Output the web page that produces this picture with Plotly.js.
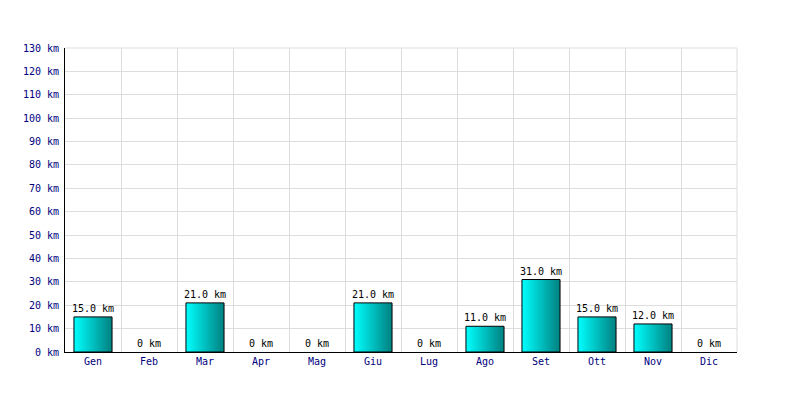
<!DOCTYPE html>
<html>
<head>
<meta charset="utf-8">
<script src="https://cdn.plot.ly/plotly-3.0.1.min.js"></script>
<style>
html,body{margin:0;padding:0;background:#fff;}
#chart{width:800px;height:400px;}
</style>
</head>
<body>
<div id="chart"></div>
<script>
var months = ["Gen","Feb","Mar","Apr","Mag","Giu","Lug","Ago","Set","Ott","Nov","Dic"];
var km = [15, 0, 21, 0, 0, 21, 0, 11, 31, 15, 12, 0];
var labels = km.map(function(v){ return v === 0 ? "0 km" : v.toFixed(1) + " km"; });

var font = "DejaVu Sans Mono, monospace";

var trace = {
  type: "bar",
  x: months,
  y: km,
  text: labels,
  textposition: "outside",
  constraintext: "none",
  cliponaxis: false,
  textfont: {family: font, size: 10, color: "#000000"},
  marker: {
    color: "#00c0c0",
    line: {color: "#000000", width: km.map(function(v){ return v === 0 ? 0 : 1; })}
  },
  hoverinfo: "none"
};

var layout = {
  width: 800, height: 400,
  margin: {l: 65, r: 63, t: 48, b: 48},
  paper_bgcolor: "#ffffff",
  plot_bgcolor: "#ffffff",
  showlegend: false,
  bargap: 0.32,
  font: {family: font, size: 10, color: "#000080"},
  xaxis: {
    type: "category",
    tickson: "boundaries",
    showgrid: true,
    gridcolor: "#dddddd",
    gridwidth: 1,
    ticks: "",
    showline: true,
    linecolor: "#000000",
    linewidth: 1,
    tickfont: {family: font, size: 10, color: "#000080"},
    range: [-0.5, 11.5],
    fixedrange: true
  },
  yaxis: {
    range: [0, 130],
    dtick: 10,
    tick0: 0,
    ticksuffix: " km",
    showgrid: true,
    gridcolor: "#dddddd",
    gridwidth: 1,
    zeroline: false,
    showline: true,
    linecolor: "#000000",
    linewidth: 1,
    ticks: "",
    ticklabelstandoff: 3,
    tickfont: {family: font, size: 10, color: "#000080"},
    fixedrange: true
  },
  shapes: [
    {type: "line", xref: "paper", yref: "paper", x0: 0, x1: 1, y0: 1, y1: 1, line: {color: "#dddddd", width: 1}, layer: "below"},
    {type: "line", xref: "paper", yref: "paper", x0: 1, x1: 1, y0: 0, y1: 1, line: {color: "#dddddd", width: 1}, layer: "below"}
  ]
};

Plotly.newPlot("chart", [trace], layout, {staticPlot: true, displayModeBar: false}).then(function(gd){
  var svg = gd.querySelector("svg.main-svg");
  var ns = "http://www.w3.org/2000/svg";
  var defs = svg.querySelector("defs") || svg.insertBefore(document.createElementNS(ns, "defs"), svg.firstChild);
  var g = document.createElementNS(ns, "linearGradient");
  g.setAttribute("id", "barGrad");
  g.setAttribute("x1", "0"); g.setAttribute("y1", "0");
  g.setAttribute("x2", "1"); g.setAttribute("y2", "0");
  var s1 = document.createElementNS(ns, "stop");
  s1.setAttribute("offset", "0"); s1.setAttribute("stop-color", "#00ffff");
  var s2 = document.createElementNS(ns, "stop");
  s2.setAttribute("offset", "1"); s2.setAttribute("stop-color", "#008080");
  g.appendChild(s1); g.appendChild(s2);
  defs.appendChild(g);
  gd.querySelectorAll(".bars .point path").forEach(function(p){
    p.style.fill = "url(#barGrad)";
  });
});
</script>
</body>
</html>
